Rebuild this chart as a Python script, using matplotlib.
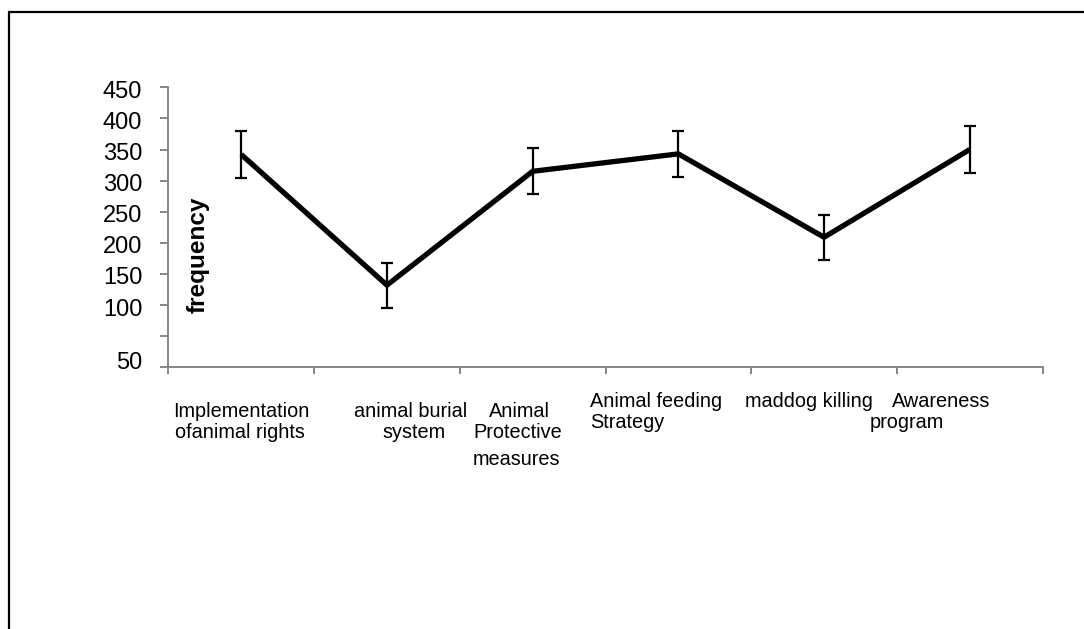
import matplotlib
matplotlib.use("Agg")
import matplotlib.pyplot as plt
from matplotlib import font_manager
from matplotlib.patches import Rectangle
from matplotlib.transforms import ScaledTranslation

# ---- data ----
categories = [
    "Implementation\nofanimal rights",
    "animal burial\nsystem",
    "Animal\nProtective\nmeasures",
    "Animal feeding\nStrategy",
    "maddog killing",
    "Awareness\nprogram",
]
frequency = [342, 132, 315, 343, 209, 350]
errors = [37, 36, 37, 37, 36, 37]
ytick_values = [0, 50, 100, 150, 200, 250, 300, 350, 400, 450]
ytick_labels = ["50", "", "100", "150", "200", "250", "300", "350", "400", "450"]
y_title = "frequency"

# ---- layout/style (pixel offsets for each label line: dx from category centre, baseline y) ----
label_layout = [
    [(0.4, 416.7), (-1.3, 438.3)],
    [(24.0, 416.7), (27.4, 438.3)],
    [(-12.8, 416.7), (-14.8, 438.3), (-16.0, 465.0)],
    [(-21.8, 406.7), (-51.0, 428.3)],
    [(-14.7, 406.7)],
    [(-29.1, 406.7), (-62.7, 428.3)],
]

W, H, DPI = 1084, 629, 100
installed = {f.name for f in font_manager.fontManager.ttflist}
base_font = "Liberation Sans" if "Liberation Sans" in installed else "DejaVu Sans"
if "Liberation Sans Narrow" in installed:
    xlab_font, xlab_size = "Liberation Sans Narrow", 16
else:
    xlab_font, xlab_size = base_font, 14.3

fig = plt.figure(figsize=(W / DPI, H / DPI), dpi=DPI)
fig.patch.set_facecolor("white")

# outer border (top and left visible, extends beyond right/bottom)
fig.patches.append(Rectangle((9 / W, -0.1), 1.2, (H - 12) / H + 0.1,
                             transform=fig.transFigure, fill=False,
                             edgecolor="black", linewidth=1.6, zorder=0))

ax_left, ax_right, ax_top, ax_bottom = 168.4, 1042.6, 87.3, 367.3
ax = fig.add_axes([ax_left / W, (H - ax_bottom) / H,
                   (ax_right - ax_left) / W, (ax_bottom - ax_top) / H])

x = list(range(len(categories)))
ax.plot(x, frequency, color="black", linewidth=3.8, solid_joinstyle="miter",
        solid_capstyle="butt", zorder=3)
ax.errorbar(x, frequency, yerr=errors, fmt="none", ecolor="black",
            elinewidth=1.6, capsize=4.4, capthick=1.6, zorder=4)

ax.set_xlim(-0.5, len(categories) - 0.5)
ax.set_ylim(0, 450)

gray = "#868686"
for s in ["top", "right"]:
    ax.spines[s].set_visible(False)
for s in ["left", "bottom"]:
    ax.spines[s].set_color(gray)
    ax.spines[s].set_linewidth(1.4)

ax.set_yticks(ytick_values)
ax.set_yticklabels(ytick_labels, fontsize=17, family=base_font)
ax.tick_params(axis="y", direction="out", length=5.8, width=1.4, color=gray, pad=13)
for lbl in ax.get_yticklabels():
    dy = 4.5 / DPI if lbl.get_text() == "50" else -4.5 / DPI
    lbl.set_va("center")
    lbl.set_transform(lbl.get_transform() + ScaledTranslation(0, dy, fig.dpi_scale_trans))
ax.set_xticks([i - 0.5 for i in range(len(categories) + 1)])
ax.set_xticklabels([])
ax.tick_params(axis="x", direction="out", length=5, width=1.4, color=gray)

# y title
fig.text(198.3 / W, (H - 255) / H, y_title, rotation=90, ha="center", va="center",
         fontsize=17.5, fontweight="bold", family=base_font)

# category labels
for i, (cat, lay) in enumerate(zip(categories, label_layout)):
    for line, (dx, base_y) in zip(cat.split("\n"), lay):
        ax.annotate(line, xy=(i, 0), xycoords=("data", "axes fraction"),
                    xytext=(dx, -(base_y - ax_bottom)), textcoords="offset pixels",
                    ha="center", va="baseline", fontsize=xlab_size,
                    family=xlab_font, annotation_clip=False)

fig.savefig("out.png", dpi=DPI, facecolor="white")
